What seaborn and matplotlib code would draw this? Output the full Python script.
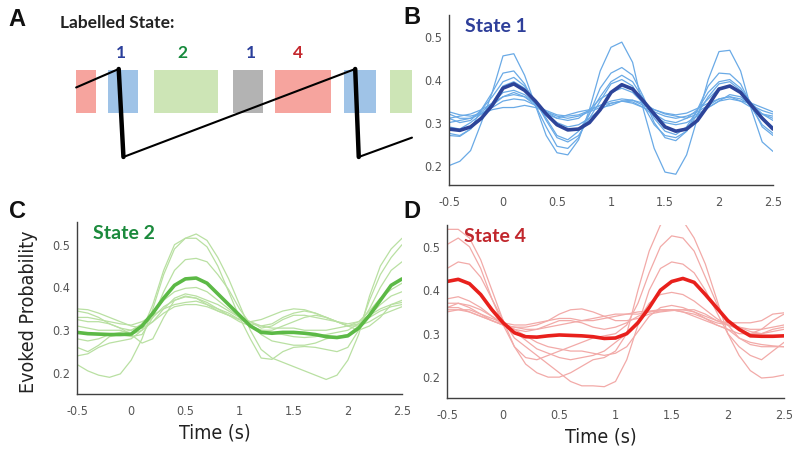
import numpy as np
import pandas as pd
import matplotlib
matplotlib.use("Agg")
import matplotlib.pyplot as plt
import seaborn as sns

sns.set_style("white")
plt.rcParams['font.family'] = ['Liberation Sans Narrow', 'DejaVu Sans']
plt.rcParams['font.stretch'] = 'condensed'

# time axis of the evoked responses (s)
time = [-0.5, -0.4, -0.3, -0.2, -0.1, 0.0, 0.1, 0.2, 0.3, 0.4, 0.5, 0.6, 0.7, 0.8, 0.9, 1.0,
        1.1, 1.2, 1.3, 1.4, 1.5, 1.6, 1.7, 1.8, 1.9, 2.0, 2.1, 2.2, 2.3, 2.4, 2.5]

# State 1 - mean and single subjects
state1_mean = [0.285, 0.282, 0.29, 0.31, 0.34, 0.38, 0.39, 0.375, 0.35, 0.32, 0.295, 0.283, 0.285, 0.30, 0.33, 0.37,
               0.388, 0.378, 0.35, 0.32, 0.29, 0.28, 0.285, 0.305, 0.34, 0.378, 0.385, 0.37, 0.34, 0.31, 0.285]
state1_subj = [
    [0.20, 0.21, 0.235, 0.30, 0.37, 0.455, 0.46, 0.41, 0.34, 0.27, 0.23, 0.225, 0.26, 0.33, 0.42, 0.475,
     0.487, 0.44, 0.33, 0.24, 0.185, 0.18, 0.225, 0.31, 0.40, 0.465, 0.468, 0.42, 0.33, 0.255, 0.233],
    [0.27, 0.268, 0.285, 0.33, 0.37, 0.415, 0.42, 0.39, 0.34, 0.29, 0.245, 0.24, 0.265, 0.32, 0.38, 0.415,
     0.428, 0.41, 0.36, 0.30, 0.265, 0.258, 0.28, 0.33, 0.385, 0.415, 0.413, 0.39, 0.34, 0.29, 0.27],
    [0.31, 0.30, 0.305, 0.33, 0.36, 0.395, 0.405, 0.385, 0.35, 0.31, 0.27, 0.26, 0.28, 0.32, 0.36, 0.395,
     0.41, 0.395, 0.355, 0.31, 0.28, 0.272, 0.29, 0.33, 0.37, 0.395, 0.40, 0.38, 0.345, 0.31, 0.29],
    [0.32, 0.31, 0.31, 0.325, 0.345, 0.37, 0.375, 0.365, 0.345, 0.325, 0.31, 0.305, 0.31, 0.33, 0.355, 0.37,
     0.38, 0.37, 0.345, 0.32, 0.305, 0.30, 0.31, 0.33, 0.355, 0.38, 0.385, 0.37, 0.345, 0.32, 0.305],
    [0.325, 0.318, 0.315, 0.322, 0.335, 0.35, 0.355, 0.352, 0.34, 0.328, 0.318, 0.315, 0.318, 0.328, 0.34, 0.35,
     0.355, 0.352, 0.34, 0.33, 0.322, 0.318, 0.322, 0.333, 0.345, 0.355, 0.36, 0.355, 0.34, 0.328, 0.32],
    [0.30, 0.305, 0.31, 0.32, 0.33, 0.335, 0.335, 0.34, 0.335, 0.325, 0.315, 0.31, 0.315, 0.325, 0.335, 0.34,
     0.35, 0.352, 0.345, 0.33, 0.32, 0.315, 0.31, 0.32, 0.335, 0.35, 0.355, 0.35, 0.345, 0.335, 0.325],
    [0.29, 0.285, 0.30, 0.32, 0.34, 0.36, 0.365, 0.36, 0.345, 0.32, 0.30, 0.29, 0.295, 0.31, 0.33, 0.345,
     0.35, 0.348, 0.335, 0.315, 0.30, 0.295, 0.30, 0.315, 0.335, 0.35, 0.365, 0.36, 0.34, 0.32, 0.31],
    [0.275, 0.27, 0.285, 0.31, 0.345, 0.385, 0.395, 0.38, 0.35, 0.305, 0.265, 0.255, 0.27, 0.31, 0.35, 0.39,
     0.40, 0.385, 0.34, 0.295, 0.27, 0.265, 0.28, 0.32, 0.36, 0.39, 0.395, 0.375, 0.335, 0.295, 0.275],
    [0.31, 0.315, 0.32, 0.33, 0.345, 0.36, 0.37, 0.36, 0.34, 0.32, 0.31, 0.318, 0.325, 0.33, 0.34, 0.345,
     0.35, 0.345, 0.335, 0.325, 0.315, 0.31, 0.315, 0.325, 0.34, 0.355, 0.36, 0.35, 0.335, 0.32, 0.315],
]

# State 2
state2_mean = [0.295, 0.292, 0.291, 0.29, 0.29, 0.291, 0.31, 0.34, 0.375, 0.405, 0.42, 0.422, 0.41, 0.385, 0.36, 0.335,
               0.31, 0.295, 0.293, 0.295, 0.295, 0.293, 0.29, 0.285, 0.283, 0.287, 0.305, 0.335, 0.37, 0.405, 0.42]
state2_subj = [
    [0.22, 0.205, 0.195, 0.19, 0.198, 0.23, 0.28, 0.35, 0.43, 0.49, 0.515, 0.525, 0.51, 0.47, 0.42, 0.36,
     0.30, 0.255, 0.235, 0.225, 0.215, 0.205, 0.195, 0.185, 0.195, 0.23, 0.29, 0.38, 0.45, 0.49, 0.515],
    [0.24, 0.245, 0.26, 0.27, 0.275, 0.28, 0.30, 0.36, 0.44, 0.50, 0.515, 0.515, 0.495, 0.45, 0.39, 0.33,
     0.28, 0.235, 0.232, 0.25, 0.26, 0.262, 0.26, 0.255, 0.25, 0.26, 0.30, 0.37, 0.43, 0.47, 0.50],
    [0.26, 0.25, 0.265, 0.285, 0.29, 0.285, 0.29, 0.33, 0.39, 0.44, 0.465, 0.468, 0.46, 0.43, 0.395, 0.35,
     0.315, 0.29, 0.275, 0.27, 0.265, 0.265, 0.27, 0.28, 0.285, 0.29, 0.31, 0.35, 0.40, 0.44, 0.46],
    [0.28, 0.275, 0.28, 0.29, 0.295, 0.30, 0.315, 0.34, 0.37, 0.39, 0.398, 0.40, 0.39, 0.37, 0.35, 0.33,
     0.31, 0.30, 0.295, 0.29, 0.285, 0.283, 0.285, 0.29, 0.295, 0.30, 0.315, 0.335, 0.36, 0.38, 0.39],
    [0.345, 0.34, 0.33, 0.315, 0.305, 0.30, 0.31, 0.33, 0.355, 0.37, 0.378, 0.375, 0.36, 0.345, 0.335, 0.325,
     0.32, 0.305, 0.31, 0.325, 0.335, 0.335, 0.33, 0.325, 0.32, 0.315, 0.32, 0.335, 0.35, 0.36, 0.365],
    [0.35, 0.348, 0.34, 0.33, 0.32, 0.31, 0.305, 0.32, 0.34, 0.355, 0.36, 0.36, 0.355, 0.345, 0.335, 0.325,
     0.32, 0.325, 0.335, 0.345, 0.35, 0.348, 0.34, 0.33, 0.32, 0.31, 0.315, 0.33, 0.345, 0.355, 0.36],
    [0.33, 0.33, 0.325, 0.32, 0.315, 0.312, 0.32, 0.335, 0.35, 0.36, 0.365, 0.368, 0.36, 0.35, 0.34, 0.325,
     0.315, 0.31, 0.315, 0.33, 0.34, 0.345, 0.34, 0.33, 0.32, 0.31, 0.31, 0.32, 0.335, 0.345, 0.355],
    [0.325, 0.32, 0.32, 0.315, 0.305, 0.29, 0.27, 0.28, 0.33, 0.37, 0.38, 0.375, 0.365, 0.35, 0.335, 0.32,
     0.31, 0.30, 0.30, 0.31, 0.32, 0.33, 0.335, 0.33, 0.32, 0.31, 0.30, 0.31, 0.33, 0.36, 0.37],
    [0.31, 0.305, 0.30, 0.30, 0.30, 0.29, 0.30, 0.32, 0.35, 0.375, 0.385, 0.38, 0.37, 0.36, 0.345, 0.33,
     0.32, 0.31, 0.305, 0.305, 0.305, 0.30, 0.30, 0.30, 0.305, 0.31, 0.32, 0.345, 0.375, 0.395, 0.41],
]

# State 4
state4_mean = [0.42, 0.425, 0.415, 0.39, 0.355, 0.325, 0.302, 0.293, 0.292, 0.295, 0.297, 0.296, 0.295, 0.293, 0.289, 0.29,
               0.30, 0.325, 0.36, 0.40, 0.42, 0.427, 0.418, 0.39, 0.36, 0.33, 0.31, 0.295, 0.294, 0.294, 0.295]
state4_subj = [
    [0.54, 0.54, 0.52, 0.47, 0.40, 0.33, 0.27, 0.23, 0.21, 0.20, 0.20, 0.21, 0.225, 0.24, 0.245, 0.26,
     0.30, 0.40, 0.49, 0.55, 0.57, 0.56, 0.52, 0.46, 0.38, 0.30, 0.25, 0.215, 0.198, 0.20, 0.205],
    [0.505, 0.52, 0.50, 0.45, 0.38, 0.32, 0.27, 0.245, 0.24, 0.25, 0.26, 0.27, 0.28, 0.29, 0.295, 0.30,
     0.32, 0.37, 0.44, 0.50, 0.525, 0.52, 0.49, 0.43, 0.37, 0.32, 0.29, 0.275, 0.27, 0.27, 0.27],
    [0.45, 0.465, 0.46, 0.43, 0.38, 0.33, 0.29, 0.27, 0.25, 0.23, 0.21, 0.19, 0.18, 0.18, 0.178, 0.19,
     0.24, 0.32, 0.40, 0.45, 0.465, 0.46, 0.44, 0.40, 0.35, 0.30, 0.27, 0.25, 0.24, 0.26, 0.28],
    [0.38, 0.385, 0.375, 0.36, 0.34, 0.32, 0.305, 0.285, 0.265, 0.255, 0.245, 0.24, 0.245, 0.25, 0.26, 0.28,
     0.30, 0.33, 0.37, 0.39, 0.395, 0.39, 0.375, 0.355, 0.335, 0.32, 0.31, 0.30, 0.30, 0.31, 0.315],
    [0.36, 0.37, 0.365, 0.355, 0.34, 0.325, 0.31, 0.295, 0.28, 0.27, 0.265, 0.26, 0.26, 0.255, 0.25, 0.255,
     0.27, 0.305, 0.34, 0.36, 0.365, 0.36, 0.35, 0.335, 0.32, 0.31, 0.30, 0.30, 0.31, 0.33, 0.345],
    [0.355, 0.355, 0.35, 0.34, 0.33, 0.32, 0.315, 0.315, 0.32, 0.33, 0.345, 0.355, 0.357, 0.35, 0.34, 0.33,
     0.33, 0.335, 0.345, 0.35, 0.353, 0.355, 0.355, 0.345, 0.33, 0.325, 0.325, 0.325, 0.33, 0.345, 0.348],
    [0.35, 0.355, 0.355, 0.345, 0.335, 0.325, 0.32, 0.32, 0.325, 0.33, 0.335, 0.335, 0.33, 0.33, 0.335, 0.34,
     0.345, 0.35, 0.352, 0.355, 0.355, 0.355, 0.35, 0.34, 0.33, 0.32, 0.315, 0.31, 0.31, 0.315, 0.32],
    [0.37, 0.37, 0.36, 0.345, 0.33, 0.32, 0.31, 0.305, 0.31, 0.32, 0.33, 0.33, 0.325, 0.315, 0.31, 0.315,
     0.325, 0.34, 0.35, 0.355, 0.355, 0.35, 0.345, 0.335, 0.325, 0.32, 0.315, 0.305, 0.30, 0.305, 0.31],
    [0.36, 0.36, 0.35, 0.34, 0.33, 0.32, 0.315, 0.31, 0.31, 0.315, 0.32, 0.325, 0.33, 0.335, 0.34, 0.345,
     0.345, 0.345, 0.35, 0.352, 0.355, 0.35, 0.34, 0.33, 0.32, 0.31, 0.29, 0.28, 0.275, 0.272, 0.27],
]

# panel A schematic: labelled state segments on a timeline (one sawtooth cycle = 1)
seg_start = [-0.19, -0.055, 0.14, 0.474, 0.651, 0.943, 1.137]
seg_end = [-0.106, 0.072, 0.41, 0.60, 0.888, 1.078, 1.23]
seg_state = ['4', '1', '2', 'x', '4', '1', '2']
label_text = ['1', '2', '1', '4']
label_pos = [0.0, 0.26, 0.55, 0.75]
saw_t = [-0.19, -0.01, 0.01, 0.99, 1.005, 1.23]
saw_phase = [0.79, 1.0, 0.0, 1.0, 0.0, 0.22]

xticks = [-0.5, 0, 0.5, 1, 1.5, 2, 2.5]
xticklabels = ['-0.5', '0', '0.5', '1', '1.5', '2', '2.5']
yticks = [0.2, 0.3, 0.4, 0.5]
yticklabels = ['0.2', '0.3', '0.4', '0.5']

fill_cols = {'1': '#9fc3e7', '2': '#cde5b6', '4': '#f6a49e', 'x': '#b3b3b3'}
text_cols = {'1': '#2b3f9b', '2': '#168a3c', '4': '#c4262c'}
bold_font = ['Lato', 'DejaVu Sans']

W, H = 800, 453
fig = plt.figure(figsize=(W / 100, H / 100), dpi=100)


def box(x0, y0, x1, y1):
    return [x0 / W, 1 - y1 / H, (x1 - x0) / W, (y1 - y0) / H]


# ---- panel A ----
axA = fig.add_axes([0, 1 - 170 / H, 420 / W, 170 / H])
axA.set_xlim(-0.512, 1.264)
axA.set_ylim(-0.148, 1.784)
axA.axis('off')
for s, e, st in zip(seg_start, seg_end, seg_state):
    axA.fill_between([s, e], 0.5, 0.99, color=fill_cols[st], lw=0)
axA.plot(saw_t, saw_phase, color='black', lw=1.5, solid_joinstyle='miter')
axA.plot(saw_t[1:3], saw_phase[1:3], color='black', lw=3.2)
axA.plot(saw_t[3:5], saw_phase[3:5], color='black', lw=3.2)
for txt, p in zip(label_text, label_pos):
    axA.text(p, 1.18, txt, color=text_cols[txt], ha='center', va='center',
             fontsize=12.5, fontweight='bold', family=bold_font, stretch='normal')
fig.text(60 / W, 1 - 23 / H, 'Labelled State:', ha='left', va='center', fontsize=12.5,
         fontweight='bold', family=bold_font, stretch='normal', color='#222222')


def panel(rect, ylim, subj, mean, thin_col, thick_col, title, title_col, xlabel_x, ylabel=False):
    ax = fig.add_axes(rect)
    rows = []
    for k, s in enumerate(subj):
        for t, v in zip(time, s):
            rows.append((k, t, v))
    df = pd.DataFrame(rows, columns=['subject', 'time', 'prob'])
    sns.lineplot(data=df, x='time', y='prob', units='subject', estimator=None,
                 color=thin_col, lw=0.9, ax=ax, legend=False)
    sns.lineplot(x=time, y=mean, color=thick_col, lw=2.6, ax=ax)
    ax.set_xlim(-0.5, 2.5)
    ax.set_ylim(*ylim)
    ax.set_xticks(xticks)
    ax.set_xticklabels(xticklabels)
    ax.set_yticks(yticks)
    ax.set_yticklabels(yticklabels)
    ax.tick_params(direction='in', length=4, width=0.8, colors='#404040',
                   labelcolor='#555555', labelsize=9)
    ax.tick_params(axis='x', pad=8)
    ax.tick_params(axis='y', pad=5)
    sns.despine(ax=ax)
    for sp in ['left', 'bottom']:
        ax.spines[sp].set_color('#404040')
        ax.spines[sp].set_linewidth(1.0)
    ax.set_xlabel('')
    ax.set_ylabel('')
    ax.text(0.05, 0.98, title, transform=ax.transAxes, ha='left', va='top', fontsize=14,
            fontweight='bold', color=title_col, family=bold_font, stretch='normal')
    if xlabel_x is not None:
        ax.set_xlabel('Time (s)', fontsize=14, color='#222222')
        ax.xaxis.set_label_coords(xlabel_x, -0.17)
    if ylabel:
        ax.set_ylabel('Evoked Probability', fontsize=14, color='#222222')
        ax.yaxis.set_label_coords(-0.12, 0.48)
    return ax


panel(box(449, 15, 773, 185), (0.155, 0.55), state1_subj, state1_mean,
      '#6aaae6', '#2d4499', 'State 1', '#2e3f9a', None)
panel(box(77, 222, 402, 394), (0.151, 0.553), state2_subj, state2_mean,
      '#b9e0a2', '#5cb946', 'State 2', '#1b8a3c', 0.425, ylabel=True)
panel(box(447, 225, 784, 398), (0.152, 0.55), state4_subj, state4_mean,
      '#f2aaa8', '#e8201c', 'State 4', '#c1272d', 0.457)

for letter, x, y in [('A', 17, 20), ('B', 412, 18), ('C', 17, 212), ('D', 412, 212)]:
    fig.text(x / W, 1 - y / H, letter, ha='center', va='center', fontsize=17,
             fontweight='bold', family=['Liberation Sans', 'DejaVu Sans'], stretch='normal',
             color='#111111')

fig.savefig('out.png', dpi=100)
